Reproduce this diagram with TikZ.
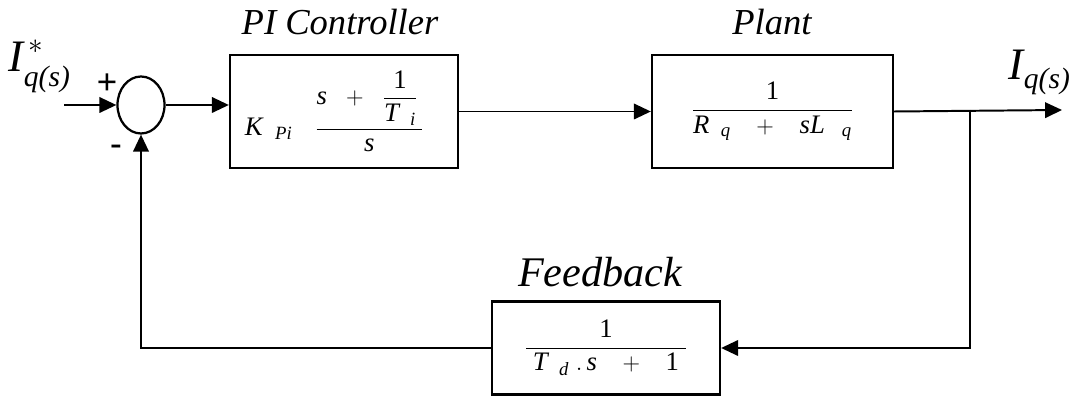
\documentclass[tikz,border=0pt]{standalone}
\usepackage{amsmath}
\usepackage{fontspec}
\setmainfont{Liberation Serif}
\usepackage{tikz}
\usetikzlibrary{shapes.geometric,arrows.meta}
\newcommand{\itv}[1]{\text{\itshape #1}}
\newcommand{\upv}[1]{\text{\upshape #1}}

\begin{document}
\begin{tikzpicture}[x=0.025cm, y=-0.025cm, line width=1.4pt,
    >={Triangle[length=12pt,width=11pt]},
    block/.style={draw, rectangle, line width=1.6pt, minimum height=2.825cm, font=\fontsize{19}{22}\selectfont},
    title/.style={font=\fontsize{26}{30}\selectfont\itshape}]
    \useasboundingbox (0,0) rectangle (1071,405);

    % Summing point
    \node[draw, ellipse, line width=1.6pt, minimum width=1.175cm, minimum height=1.425cm, inner sep=0pt] (sum) at (141,105) {};
    \node[font=\fontsize{26}{28}\selectfont\bfseries] (plus) at (107,84) {+};
    \node[font=\fontsize{24}{26}\selectfont\bfseries] (minus) at (116,150) {-};

    % Input and output
    \coordinate (in) at (64,105);
    \node[font=\fontsize{32}{36}\selectfont, anchor=base west, inner sep=0pt] (iref) at (8,72) {$\itv{I}^{\,*}_{\raisebox{-4pt}{\fontsize{21}{24}\selectfont\itv{q(s)}}}$};
    \coordinate (out) at (1062,110);
    \coordinate (branch) at (970,110);
    \node[font=\fontsize{32}{36}\selectfont, anchor=base west, inner sep=0pt] (iout) at (1008,80) {$\itv{I}_{\raisebox{-1pt}{\fontsize{21}{24}\selectfont\itv{q(s)}}}$};

    % PI Controller
    \node[block, minimum width=5.7cm] (pi) at (344,111.5) {$\itv{K}_{\hspace{9pt}\itv{Pi}}\hspace{16pt}\dfrac{\itv{s}\;\;+\;\;\dfrac{\upv{1}}{\itv{T}_{\;\;\itv{i}}}\,}{\itv{s}}\hspace{14pt}$};
    \node[title] (pititle) at (340,22) {PI Controller};

    % Plant
    \node[block, minimum width=6.025cm] (plant) at (772.5,111.5) {$\dfrac{\upv{1}}{\itv{R}_{\;\;\itv{q}}\;\;\;+\;\;\;\itv{sL}_{\;\;\;\itv{q}}}$};
    \node[title] (planttitle) at (772,22) {Plant};

    % Feedback
    \node[block, minimum width=5.7cm, minimum height=2.325cm] (fb) at (606,348) {$\dfrac{\upv{1}}{\;\itv{T}_{\;\;\itv{d}}\;.\,\itv{s}\;\;\;+\;\;\;\upv{1}\;}$};
    \node[title, font=\fontsize{30}{34}\selectfont\itshape] (fbtitle) at (600,272) {Feedback};

    % Arrows
    \draw[->] (in) -- (sum.west);
    \draw[->] (sum.east) -- (sum.east -| pi.west);
    \draw[->] (pi.east |- plant.west) -- (plant.west);
    \draw[->] (plant.east) -- (out);
    \draw[->] (branch) |- (fb.east);
    \draw[->] (fb.west) -| (sum.south);
\end{tikzpicture}
\end{document}
